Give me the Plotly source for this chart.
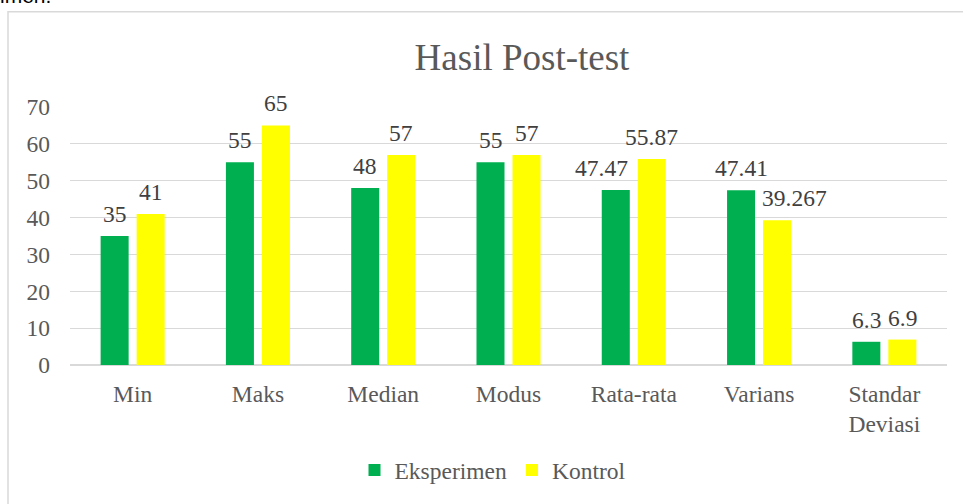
import plotly.graph_objects as go

categories = ["Min", "Maks", "Median", "Modus", "Rata-rata", "Varians", "Standar<br>Deviasi"]
eksperimen = [35, 55, 48, 55, 47.47, 47.41, 6.3]
kontrol = [41, 65, 57, 57, 55.87, 39.267, 6.9]
eksperimen_labels = ["35", "55", "48", "55", "47.47", "47.41", "6.3"]
kontrol_labels = ["41", "65", "57", "57", "55.87", "39.267", "6.9"]
y_ticks = [0, 10, 20, 30, 40, 50, 60, 70]

GREEN = "#00B050"
YELLOW = "#FFFF00"
SERIF = "Liberation Serif"
FS = 23.5

W, H = 963, 504
L, R, T, B = 70, 16, 107, 137
pw, ph = W - L - R, H - T - B

def px_to_paper_x(px):
    return (px - L) / pw

def px_to_paper_y(py):
    return (H - B - py) / ph

fig = go.Figure()
fig.add_trace(go.Bar(name="Eksperimen", x=categories, y=eksperimen,
                     marker=dict(color=GREEN, line=dict(width=0))))
fig.add_trace(go.Bar(name="Kontrol", x=categories, y=kontrol,
                     marker=dict(color=YELLOW, line=dict(width=0))))

# data labels (shifts only for placement)
slot = 36
eks_shift = [0, 0, 0, 0, -14, 0, 0]
kon_shift = [0, 0, 0, 0, 0, 17, 0]
annotations = []
for i, c in enumerate(categories):
    annotations.append(dict(x=c, y=eksperimen[i], text=eksperimen_labels[i],
                            xref="x", yref="y", showarrow=False, yanchor="bottom",
                            xshift=-slot / 2 + eks_shift[i], yshift=7,
                            font=dict(family=SERIF, size=FS, color="#404040")))
    annotations.append(dict(x=c, y=kontrol[i], text=kontrol_labels[i],
                            xref="x", yref="y", showarrow=False, yanchor="bottom",
                            xshift=slot / 2 + kon_shift[i], yshift=7,
                            font=dict(family=SERIF, size=FS, color="#404040")))

# cut-off text of surrounding document
annotations.append(dict(text="imen.", xref="paper", yref="paper",
                        x=px_to_paper_x(-2), y=px_to_paper_y(8),
                        xanchor="left", yanchor="bottom", showarrow=False,
                        font=dict(family="Liberation Sans", size=21, color="#000000")))

fig.update_layout(
    width=W, height=H,
    margin=dict(l=L, r=R, t=T, b=B),
    paper_bgcolor="white", plot_bgcolor="white",
    barmode="group", bargap=0.425, bargroupgap=0.222,
    title=dict(text="Hasil Post-test", x=px_to_paper_x(522), xref="paper",
               xanchor="center", y=1 - 57 / H, yanchor="middle",
               font=dict(family=SERIF, size=37, color="#595959")),
    font=dict(family=SERIF, color="#595959", size=FS),
    showlegend=True,
    legend=dict(orientation="h", x=px_to_paper_x(493), xanchor="center",
                y=px_to_paper_y(473), yanchor="middle",
                font=dict(family=SERIF, size=FS, color="#595959"),
                bgcolor="rgba(0,0,0,0)"),
    annotations=annotations,
    shapes=[dict(type="rect", xref="paper", yref="paper",
                 x0=px_to_paper_x(8), x1=px_to_paper_x(1100),
                 y0=px_to_paper_y(700), y1=px_to_paper_y(11),
                 line=dict(color="#D9D9D9", width=1.5), fillcolor="rgba(0,0,0,0)",
                 layer="below")],
)
fig.update_xaxes(showgrid=False, showline=False, ticks="", ticklabelstandoff=12,
                 tickfont=dict(family=SERIF, size=FS, color="#595959"))
fig.update_yaxes(range=[0, 70], tickvals=y_ticks, showgrid=True, gridcolor="#D9D9D9",
                 gridwidth=1, zeroline=True, zerolinecolor="#D9D9D9", zerolinewidth=1.5,
                 showline=False, ticks="", ticklabelstandoff=19,
                 tickfont=dict(family=SERIF, size=FS, color="#595959"))

fig.write_html("out.html", config={"displayModeBar": False},
               post_script="document.body.style.margin='0';document.body.style.overflow='hidden';")
